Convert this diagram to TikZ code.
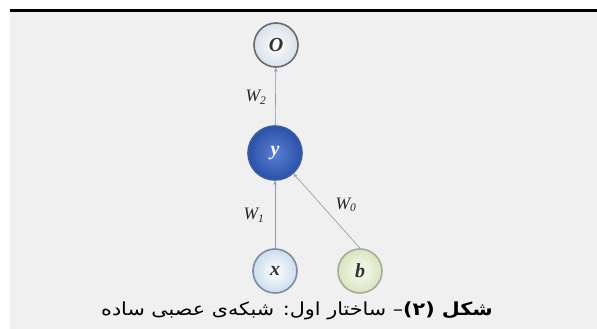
\documentclass[tikz,border=0pt]{standalone}
\usepackage{fontspec}
\usepackage{graphicx}
\usetikzlibrary{arrows.meta,shadings}
\newfontfamily\arabicfont[Script=Arabic]{DejaVu Sans}
\newfontfamily\labfont{Liberation Serif}
\TeXXeTstate=1
\definecolor{panel}{HTML}{F0F0F0}
\definecolor{edgec}{HTML}{8C98AC}
\definecolor{yin}{HTML}{5A80D4}
\definecolor{yout}{HTML}{2A50A8}
\definecolor{yrim}{HTML}{3C5CA0}
\definecolor{oout}{HTML}{D8E0EA}
\definecolor{xout}{HTML}{CCDCEE}
\definecolor{xrim}{HTML}{7C8CA4}
\definecolor{bin}{HTML}{FAFCF0}
\definecolor{bout}{HTML}{D8E4C0}
\definecolor{brim}{HTML}{A4AC98}
\tikzset{
  nd/.style={circle, minimum size=44, inner sep=0pt, line width=1.6pt, font=\labfont\itshape\bfseries\fontsize{20}{21}\selectfont, text=black!80},
  ndo/.style={nd, draw=black!58, inner color=white, outer color=oout},
  ndy/.style={nd, minimum size=54, draw=yrim, inner color=yin, outer color=yout, text=white},
  ndx/.style={nd, draw=xrim, inner color=white, outer color=xout},
  ndb/.style={nd, draw=brim, inner color=bin, outer color=bout},
  edge/.style={draw=edgec, line width=0.6pt, -{Stealth[length=4pt,width=3.5pt]}},
  lab/.style={font=\labfont\itshape\fontsize{17.5}{18}\selectfont, text=black!85}
}
\begin{document}
\begin{tikzpicture}[x=1pt,y=-1pt]
\useasboundingbox (0,0) rectangle (597,329);
\fill[white] (0,0) rectangle (597,329);
\fill[panel] (9.5,11.5) rectangle (597,329);
\draw[line width=2.2pt] (9.5,10.5) -- (597,10.5);
\node[ndo] (o) at (276,45) {O};
\node[ndy] (y) at (275,153) {y};
\node[ndx] (x) at (275,271) {x};
\node[ndb] (b) at (360,271) {b};
\draw[edge] (y) -- (o);
\draw[edge] (x) -- (y);
\draw[edge] (b.north) -- (y);
\node[lab] (w2) at (256,97) {W\textsubscript{\fontsize{11.5}{12}\selectfont 2}};
\node[lab] (w1) at (254,215) {W\textsubscript{\fontsize{11.5}{12}\selectfont 1}};
\node[lab] (w0) at (346,205) {W\textsubscript{\fontsize{11.5}{12}\selectfont 0}};
\node[font=\arabicfont\fontsize{18}{20}\selectfont] (cap) at (297,311) {\scalebox{1.15}[1]{\beginR\textbf{شکل (۲)}– ساختار اول: شبکه‌ی عصبی ساده\endR}};
\end{tikzpicture}
\end{document}
